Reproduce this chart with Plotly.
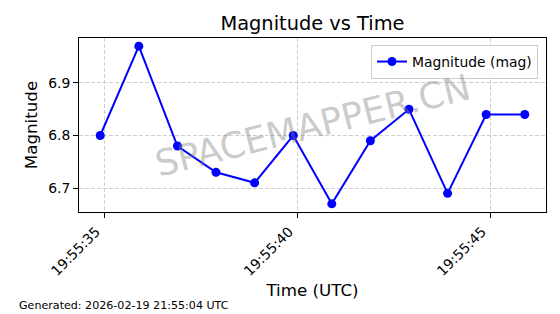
import plotly.graph_objects as go

# ---- data ----
times = [
    "2026-02-19 19:55:34.9", "2026-02-19 19:55:35.9", "2026-02-19 19:55:36.9",
    "2026-02-19 19:55:37.9", "2026-02-19 19:55:38.9", "2026-02-19 19:55:39.9",
    "2026-02-19 19:55:40.9", "2026-02-19 19:55:41.9", "2026-02-19 19:55:42.9",
    "2026-02-19 19:55:43.9", "2026-02-19 19:55:44.9", "2026-02-19 19:55:45.9",
]
magnitudes = [6.80, 6.97, 6.78, 6.73, 6.71, 6.80, 6.67, 6.79, 6.85, 6.69, 6.84, 6.84]
series_name = "Magnitude (mag)"
title_text = "Magnitude vs Time"
x_label = "Time (UTC)"
y_label = "Magnitude"
footer_text = "Generated: 2026-02-19 21:55:04 UTC"
watermark_text = "SPACEMAPPER.CN"
x_range = ["2026-02-19 19:55:34.35", "2026-02-19 19:55:46.45"]
y_range = [6.6545, 6.9855]

FONT = "DejaVu Sans"
W, H = 560, 314
ML, MR, MT, MB = 79, 14, 38, 102
PW = W - ML - MR
PH = H - MT - MB

fig = go.Figure()
fig.add_trace(go.Scatter(
    x=times, y=magnitudes, mode="lines+markers", name=series_name,
    line=dict(color="#0000ff", width=2),
    marker=dict(color="#0000ff", size=9),
))

fig.update_layout(
    width=W, height=H,
    margin=dict(l=ML, r=MR, t=MT, b=MB),
    paper_bgcolor="white", plot_bgcolor="white",
    font=dict(family=FONT, color="black"),
    title=dict(text=title_text, x=(ML + PW / 2) / W, xanchor="center",
               y=1 - 23 / H, yanchor="middle",
               font=dict(size=19.4, family=FONT, color="black")),
    showlegend=True,
    legend=dict(x=(538 - ML) / PW, xanchor="right", y=1 - (45 - MT) / PH, yanchor="top",
                bgcolor="rgba(255,255,255,0.8)", bordercolor="#cccccc", borderwidth=1,
                font=dict(size=13.9, family=FONT, color="black")),
)

fig.update_xaxes(
    type="date", range=x_range,
    tick0="2026-02-19 19:55:35", dtick=5000, tickformat="%H:%M:%S",
    tickangle=-45, tickfont=dict(size=13.9, family=FONT, color="black"),
    ticklabelshift=-8,
    ticks="outside", ticklen=5, tickwidth=1, tickcolor="black",
    showline=True, linecolor="black", linewidth=1, mirror=True,
    showgrid=True, gridcolor="#cfcfcf", griddash="4px,2px", gridwidth=1,
    zeroline=False,
    title=dict(text=x_label, font=dict(size=16.7, family=FONT, color="black"), standoff=6),
)
fig.update_yaxes(
    range=y_range, tickvals=[6.7, 6.8, 6.9], tickformat=".1f",
    tickfont=dict(size=13.9, family=FONT, color="black"),
    ticks="outside", ticklen=5, tickwidth=1, tickcolor="black",
    showline=True, linecolor="black", linewidth=1, mirror=True,
    showgrid=True, gridcolor="#cfcfcf", griddash="4px,2px", gridwidth=1,
    zeroline=False,
    title=dict(text=y_label, font=dict(size=16.7, family=FONT, color="black"), standoff=6),
)

fig.add_annotation(
    text=watermark_text, xref="paper", yref="paper", x=0.5, y=0.5,
    showarrow=False, textangle=-14,
    font=dict(size=36, family=FONT, color="rgba(128,128,128,0.42)"),
)
fig.add_annotation(
    text=footer_text, xref="paper", yref="paper",
    x=(17 - ML) / PW, xanchor="left", y=(MT + PH - 305) / PH, yanchor="middle",
    showarrow=False, font=dict(size=11.1, family=FONT, color="black"),
)

fig.write_html("out.html")
